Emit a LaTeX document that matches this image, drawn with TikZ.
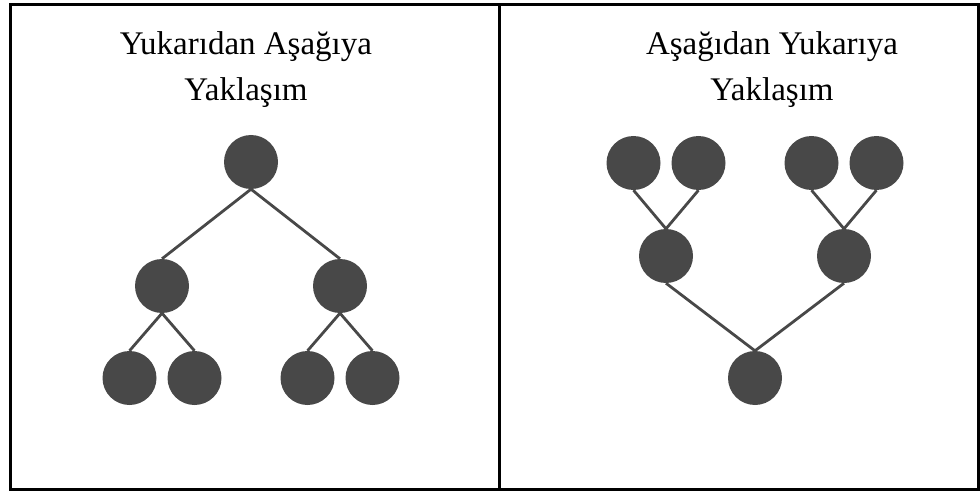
\documentclass[tikz,border=0pt]{standalone}
\usepackage{fontspec}
\setmainfont{Liberation Serif}
\usetikzlibrary{positioning}
\definecolor{ballgray}{RGB}{72,72,72}

\begin{document}
\begin{tikzpicture}[
    x=1pt, y=-1pt,
    ball/.style={circle, fill=ballgray, minimum size=54pt, inner sep=0pt},
    link/.style={draw=ballgray, line width=2.8pt},
    frame/.style={draw=black, line width=3pt},
    heading/.style={align=center, font=\fontsize{33}{46}\selectfont}
]
\useasboundingbox (0,0) rectangle (980,492);
\draw[frame] (10,5) rectangle (978,489);
\draw[frame] (499,5) -- (499,489);

% top-down tree
\node[heading] (td_title) at (246,70) {Yukarıdan Aşağıya\\Yaklaşım};
\node[ball] (td_root) at (251,162) {};
\node[ball, on grid, below left=124pt and 89pt of td_root] (td_l) {};
\node[ball, on grid, below right=124pt and 89pt of td_root] (td_r) {};
\node[ball, on grid, below left=92pt and 32.5pt of td_l] (td_ll) {};
\node[ball, on grid, below right=92pt and 32.5pt of td_l] (td_lr) {};
\node[ball, on grid, below left=92pt and 32.5pt of td_r] (td_rl) {};
\node[ball, on grid, below right=92pt and 32.5pt of td_r] (td_rr) {};
\foreach \a/\b in {td_root/td_l, td_root/td_r, td_l/td_ll, td_l/td_lr, td_r/td_rl, td_r/td_rr}
    \draw[link] (\a.south) -- (\b.north);

% bottom-up tree
\node[heading] (bu_title) at (772,70) {Aşağıdan Yukarıya\\Yaklaşım};
\node[ball] (bu_root) at (755,378) {};
\node[ball, on grid, above left=122pt and 89pt of bu_root] (bu_l) {};
\node[ball, on grid, above right=122pt and 89pt of bu_root] (bu_r) {};
\node[ball, on grid, above left=93pt and 32.5pt of bu_l] (bu_ll) {};
\node[ball, on grid, above right=93pt and 32.5pt of bu_l] (bu_lr) {};
\node[ball, on grid, above left=93pt and 32.5pt of bu_r] (bu_rl) {};
\node[ball, on grid, above right=93pt and 32.5pt of bu_r] (bu_rr) {};
\foreach \a/\b in {bu_ll/bu_l, bu_lr/bu_l, bu_rl/bu_r, bu_rr/bu_r, bu_l/bu_root, bu_r/bu_root}
    \draw[link] (\a.south) -- (\b.north);
\end{tikzpicture}
\end{document}
